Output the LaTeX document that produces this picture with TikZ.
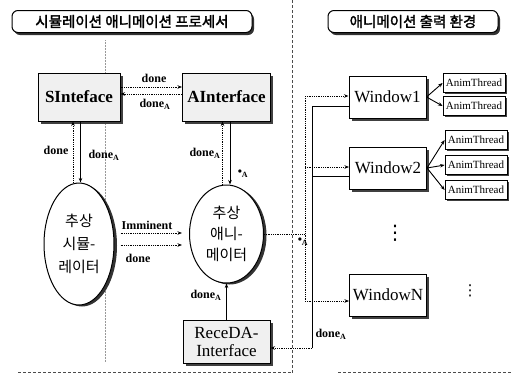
\documentclass[tikz,border=0pt]{standalone}
\usepackage{fontspec}
\setmainfont{Liberation Serif}
\newfontfamily\kr{Noto Sans CJK KR}
\newfontfamily\krb{Noto Sans CJK KR}[FakeBold=2]
\newfontfamily\dv{DejaVu Sans}
\usetikzlibrary{shapes.geometric,shadows,arrows.meta,calc}
\begin{document}
\begin{tikzpicture}[x=1pt,y=-1pt,
 box/.style={draw, line width=1pt, fill=black!6, inner sep=0pt, align=center,
   drop shadow={shadow xshift=2.5pt, shadow yshift=-2.5pt, fill=black!75, opacity=1}},
 winbox/.style={box, fill=white, minimum width=77pt, minimum height=42pt, font=\fontsize{17}{18}\selectfont},
 thr/.style={draw, line width=0.8pt, fill=white, inner sep=0pt, minimum width=62pt, minimum height=19pt,
   font=\fontsize{11}{12}\selectfont,
   drop shadow={shadow xshift=1.5pt, shadow yshift=-1.5pt, fill=black!75, opacity=1}},
 ell/.style={ellipse, draw, line width=1pt, fill=white, inner sep=0pt, align=center,
   drop shadow={shadow xshift=3pt, shadow yshift=-1.5pt, fill=black!80, opacity=1}},
 ttl/.style={draw, rounded corners=6pt, line width=1pt, fill=white, inner sep=0pt,
   font=\krb\fontsize{14.5}{16}\selectfont,
   drop shadow={shadow xshift=2pt, shadow yshift=-2.5pt, fill=black!80, opacity=1}},
 lbl/.style={font=\bfseries\fontsize{12}{13}\selectfont, inner sep=0pt},
 dline/.style={densely dotted, line width=0.8pt},
 darr/.style={dline, -{Stealth[length=4.5pt,width=3.5pt]}},
 sline/.style={line width=0.9pt},
 sarr/.style={sline, -{Stealth[length=4.5pt,width=3.5pt]}},
 sep/.style={densely dashed, line width=0.7pt, black!70}
]
\useasboundingbox (0,0) rectangle (516,376);

% faint centre guide line and separators
\draw[black!40, densely dotted, line width=0.5pt] (105,40) -- (105,362);
\draw[sep] (292,0) -- (292,373);
\draw[sep] (18,372) -- (292,372);
\draw[sep] (338,372) -- (512,372);

% titles
\node[ttl, minimum width=240pt, minimum height=22pt] (t1) at (132,21.5) {시뮬레이션 애니메이션 프로세서};
\node[ttl, minimum width=170pt, minimum height=22pt] (t2) at (413,21.5) {애니메이션 출력 환경};

% left nodes
\node[box, minimum width=82pt, minimum height=48pt, font=\bfseries\fontsize{17}{18}\selectfont] (SInt) at (79,97) {SInteface};
\node[box, minimum width=88pt, minimum height=48pt, font=\bfseries\fontsize{17}{18}\selectfont] (AInt) at (226.5,97) {AInterface};
\node[ell, minimum width=70pt, minimum height=122pt, font=\kr\fontsize{15}{23}\selectfont] (E1) at (79,244) {추상\\시뮬-\\레이터};
\node[ell, minimum width=74pt, minimum height=98pt, font=\kr\fontsize{15}{21}\selectfont] (E2) at (226.5,234) {추상\\애니-\\메이터};
\node[box, minimum width=87pt, minimum height=43pt, font=\fontsize{17}{18}\selectfont] (Rece) at (226.5,341.5) {ReceDA-\\Interface};

% windows and threads
\node[winbox] (W1) at (387.5,97) {Window1};
\node[winbox] (W2) at (388,168) {Window2};
\node[winbox] (WN) at (388,295) {WindowN};
\node[thr] (T11) at (474,83) {AnimThread};
\node[thr] (T12) at (474,106) {AnimThread};
\node[thr] (T21) at (476,140) {AnimThread};
\node[thr] (T22) at (476,165) {AnimThread};
\node[thr] (T23) at (476,190) {AnimThread};
\node[font=\dv\fontsize{20}{20}\selectfont, inner sep=0pt] (vd1) at (395,233) {⋮};
\node[font=\dv\fontsize{15}{15}\selectfont, inner sep=0pt] (vd2) at (470,291) {⋮};

% SInteface <-> AInterface
\draw[darr] ([yshift=10pt]SInt.east) -- ([yshift=10pt]AInt.west);
\draw[darr] ([yshift=3pt]AInt.west) -- ([yshift=3pt]SInt.east);
\node[lbl] (l1) at (154,78) {done};
\node[lbl] (l2) at (155,104) {done\textsubscript{A}};

% SInteface <-> E1
\draw[darr] ([xshift=-6pt]E1.north) -- ([xshift=-6pt]SInt.south);
\draw[sarr] ([xshift=1.5pt]SInt.south) -- ([xshift=1.5pt]E1.north);
\node[lbl] (l3) at (56,150) {done};
\node[lbl] (l4) at (104,155) {done\textsubscript{A}};

% AInterface <-> E2
\draw[darr] ([xshift=-4pt]E2.north) -- ([xshift=-4pt]AInt.south);
\draw[sarr] ([xshift=3.5pt]AInt.south) -- ([xshift=3.5pt]E2.north);
\node[lbl] (l5) at (205,153) {done\textsubscript{A}};
\node[lbl] (l6) at (243,174) {\textbullet\textsubscript{A}};

% E1 -> E2
\draw[darr, shorten >=7pt] ([xshift=6pt,yshift=11pt]E1.east) -- ([yshift=1pt]E2.west);
\draw[darr, shorten >=7pt] ([xshift=6pt,yshift=-1pt]E1.east) -- ([yshift=-11pt]E2.west);
\node[lbl] (l7) at (147,225) {Imminent};
\node[lbl] (l8) at (138,258) {done};

% Rece -> E2
\draw[sarr] (Rece.north) -- (E2.south);
\node[lbl] (l9) at (206,295) {done\textsubscript{A}};

% dotted bus from E2 to windows
\coordinate (ds1) at (305,96);
\coordinate (ds2) at (305,167);
\coordinate (ds3) at (305,301);
\draw[dline] (E2.east) -- (E2.east -| ds1);
\draw[dline] (ds1) -- (ds3);
\draw[darr] (ds1) -- (W1.west |- ds1);
\draw[darr] (ds2) -- (W2.west |- ds2);
\draw[darr] (ds3) -- (WN.west |- ds3);
\node[lbl] (l10) at (303,242) {\textbullet\textsubscript{A}};

% solid bus from windows to ReceDA
\coordinate (bs) at (312,348);
\draw[sline] ([yshift=-9pt]W1.west) -| (bs);
\draw[sline] ([yshift=-8pt]W2.west) -- ([yshift=-8pt]W2.west -| bs);
\draw[darr] (bs) -- (Rece.east |- bs);
\node[lbl] (l11) at (331,334) {done\textsubscript{A}};

% windows -> threads
\draw[sarr] (W1.east) -- (T11.west);
\draw[sarr] (W1.east) -- (T12.west);
\draw[sarr] (W2.east) -- (T21.west);
\draw[sarr] (W2.east) -- (T22.west);
\draw[sarr] (W2.east) -- (T23.west);
\end{tikzpicture}
\end{document}
